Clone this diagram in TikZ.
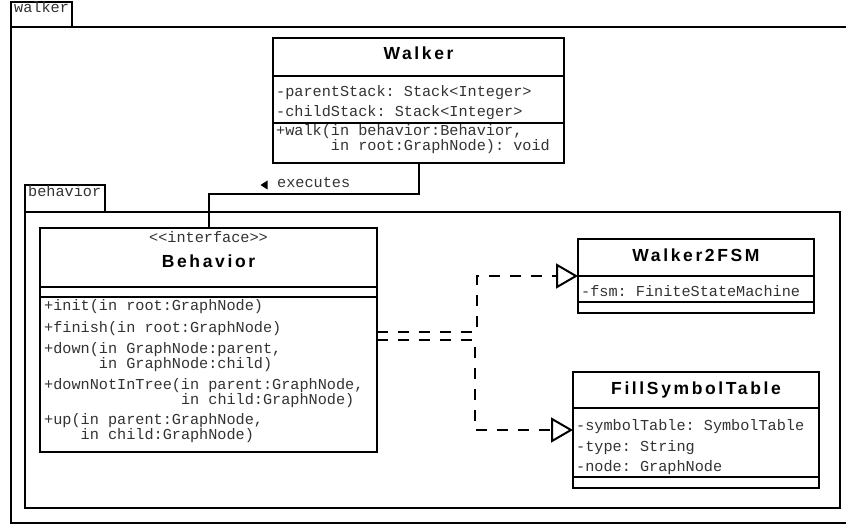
\documentclass[tikz,border=0pt]{standalone}
\usepackage{fontspec}
\setmonofont{Liberation Mono}
\newfontfamily\clsfont{Liberation Sans}[LetterSpace=15]
\usetikzlibrary{arrows.meta,calc}

\begin{document}
\begin{tikzpicture}[x=1pt,y=-1pt,
  frame/.style={draw, line width=2pt, rectangle, inner sep=0pt, outer sep=0pt, anchor=north west},
  mono/.style={font=\fontsize{15.2}{15}\selectfont\ttfamily, text=black!80, anchor=base west, inner sep=0pt},
  title/.style={font=\fontsize{17.5}{18}\selectfont\clsfont\bfseries, anchor=base, inner sep=0pt},
  sep/.style={line width=2pt},
  link/.style={line width=2pt},
  realize/.style={line width=2pt, dash pattern=on 11pt off 10pt,
    -{Triangle[open, length=22pt, width=25pt, line width=2pt]}},
]
\useasboundingbox (0,0) rectangle (846,529);
\clip (0,0) rectangle (846,529);

% package walker
\node[frame, minimum width=61pt, minimum height=25pt] (walkertab) at (11,2.5) {};
\node[mono] (walkerlbl) at (14,12.5) {walker};
\node[frame, minimum width=840pt, minimum height=495.5pt] (walkerpkg) at (11,27.5) {};

% package behavior
\node[frame, minimum width=80pt, minimum height=27.5pt] (behtab) at (25,185) {};
\node[mono] (behlbl) at (28,196.5) {behavior};
\node[frame, minimum width=815pt, minimum height=295.5pt] (behpkg) at (25,212.5) {};

% class Walker
\node[frame, fill=white, minimum width=291pt, minimum height=125pt] (walker) at (273,38) {};
\draw[sep] (walker.west |- 0,76) -- (walker.east |- 0,76);
\draw[sep] (walker.west |- 0,123) -- (walker.east |- 0,123);
\node[title] (walkertitle) at (418.5,60) {Walker};
\node[mono] (wa1) at (276,96.5) {-parentStack: Stack<Integer>};
\node[mono] (wa2) at (276,116.5) {-childStack: Stack<Integer>};
\node[mono] (wo1) at (276,135.5) {+walk(in behavior:Behavior,};
\node[mono] (wo2) at (276,150.5) {\phantom{+walk(}in root:GraphNode): void};

% interface Behavior
\node[frame, fill=white, minimum width=337pt, minimum height=224pt] (beh) at (40,228) {};
\draw[sep] (beh.west |- 0,287) -- (beh.east |- 0,287);
\draw[sep] (beh.west |- 0,297) -- (beh.east |- 0,297);
\node[mono, anchor=base] (behster) at (208.5,242.5) {<<interface>>};
\node[title] (behtitle) at (208.5,267.5) {Behavior};
\node[mono] (bo1) at (44,311) {+init(in root:GraphNode)};
\node[mono] (bo2) at (44,332) {+finish(in root:GraphNode)};
\node[mono] (bo3) at (44,353.5) {+down(in GraphNode:parent,};
\node[mono] (bo3b) at (44,368) {\phantom{+down(}in GraphNode:child)};
\node[mono] (bo4) at (44,389.5) {+downNotInTree(in parent:GraphNode,};
\node[mono] (bo4b) at (44,404) {\phantom{+downNotInTree(}in child:GraphNode)};
\node[mono] (bo5) at (44,424.5) {+up(in parent:GraphNode,};
\node[mono] (bo5b) at (44,439) {\phantom{+up(}in child:GraphNode)};

% class Walker2FSM
\node[frame, fill=white, minimum width=236pt, minimum height=74pt] (w2f) at (578,239) {};
\draw[sep] (w2f.west |- 0,276) -- (w2f.east |- 0,276);
\draw[sep] (w2f.west |- 0,302) -- (w2f.east |- 0,302);
\node[title] (w2ftitle) at (696,261.5) {Walker2FSM};
\node[mono] (w2fa1) at (581,296.5) {-fsm: FiniteStateMachine};

% class FillSymbolTable
\node[frame, fill=white, minimum width=246pt, minimum height=116pt] (fst) at (573,372) {};
\draw[sep] (fst.west |- 0,408) -- (fst.east |- 0,408);
\draw[sep] (fst.west |- 0,477) -- (fst.east |- 0,477);
\node[title] (fsttitle) at (696,394) {FillSymbolTable};
\node[mono] (fsta1) at (576,430.5) {-symbolTable: SymbolTable};
\node[mono] (fsta2) at (576,451) {-type: String};
\node[mono] (fsta3) at (576,471) {-node: GraphNode};

% association Walker -> Behavior
\draw[link] (walker.south) -- ++(0,31) -| (beh.north);
\node[mono] (execlbl) at (277,188) {executes};
\fill ($(execlbl.base west)+(-9.5,-7.5)$) -- ++(0,9) -- ++(-7,-4.5) -- cycle;

% realizations of Behavior
\draw[realize] ([yshift=8pt]beh.east) -- ++(100,0) |- (w2f.west);
\draw[realize] (beh.east) -- ++(98,0) |- (fst.west);

\end{tikzpicture}
\end{document}
